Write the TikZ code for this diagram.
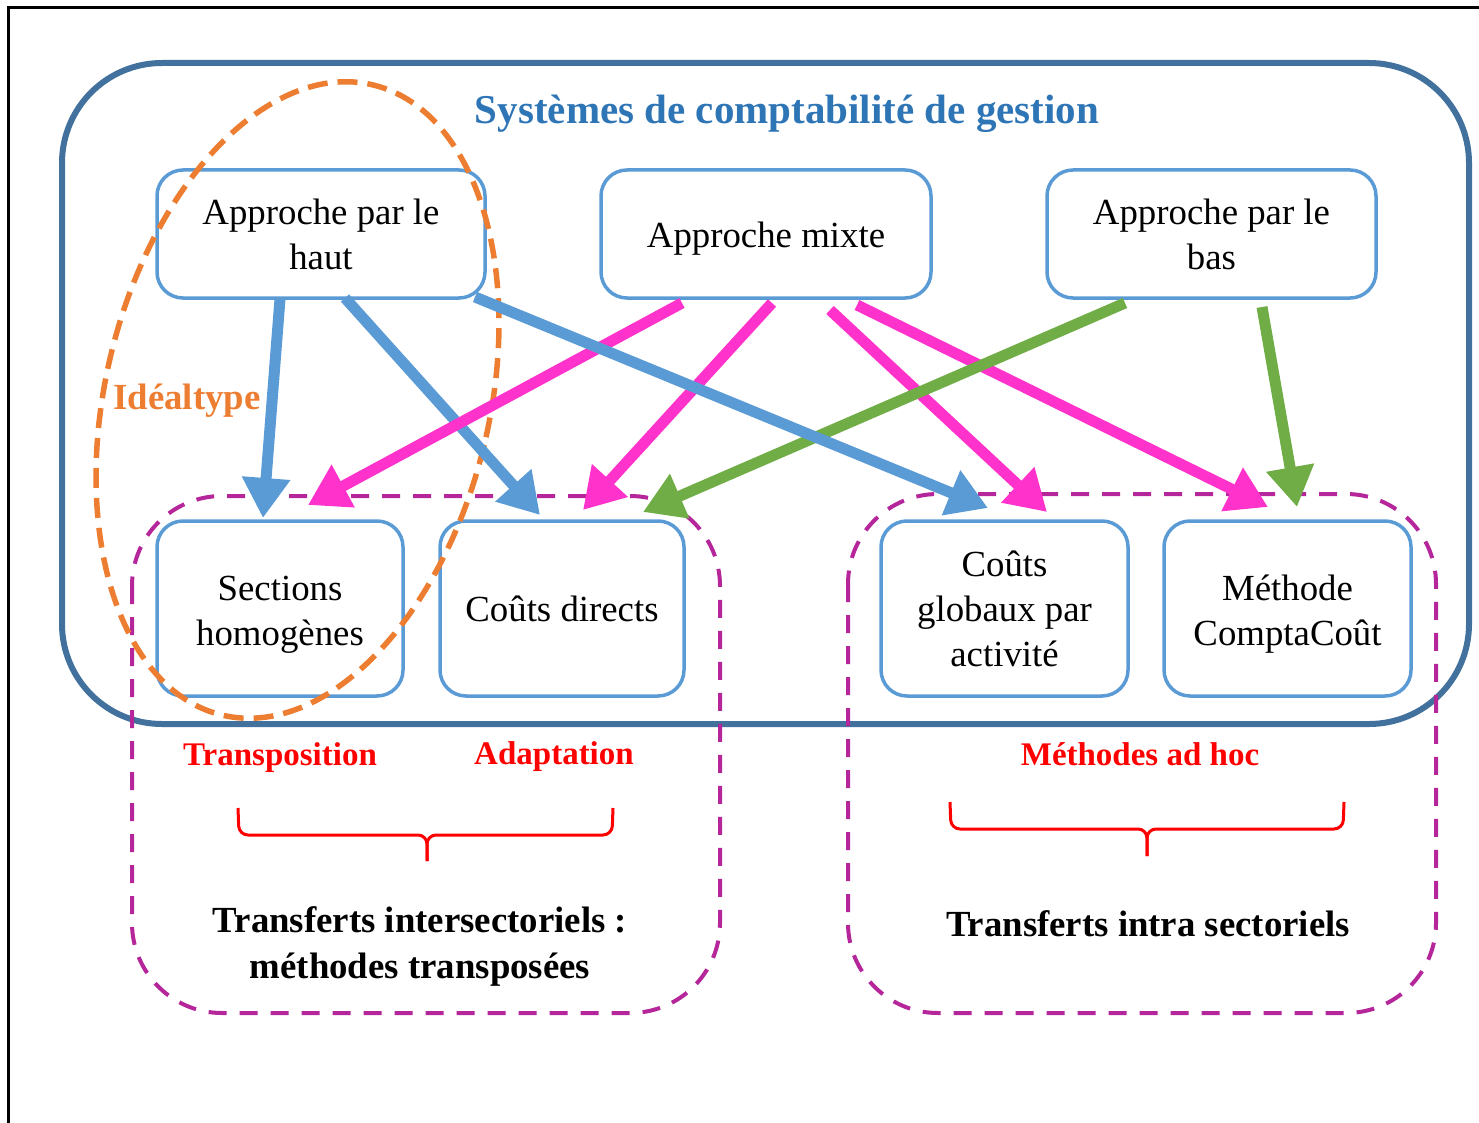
\documentclass[tikz,border=0pt]{standalone}
\usepackage{fontspec}
\setmainfont{Liberation Serif}
\usetikzlibrary{arrows.meta}
\definecolor{frameblue}{HTML}{41719C}
\definecolor{boxblue}{HTML}{5B9BD5}
\definecolor{titleblue}{HTML}{2E75B6}
\definecolor{purp}{HTML}{B5269B}
\definecolor{orng}{HTML}{ED7D31}
\definecolor{pnk}{HTML}{FF33CC}
\definecolor{grn}{HTML}{70AD47}
\definecolor{rd}{HTML}{FF0000}
\newcommand{\liftlines}[2]{\raisebox{#1}[\height][\depth]{\begin{tabular}{@{}c@{}}#2\end{tabular}}}
\tikzset{
  approach/.style={draw=boxblue, line width=3.5pt, rounded corners=26pt, inner sep=0pt,
    align=center, font=\fontsize{36.8}{45}\selectfont},
  groupbox/.style={draw=purp, line width=4pt, dash pattern=on 18pt off 13pt, rounded corners=90pt},
  arr/.style={line width=11pt, -{Triangle[length=40pt,width=46pt]}},
  redlab/.style={text=rd, font=\fontsize{33}{40}\selectfont\bfseries},
  blacklab/.style={text=black, align=center, font=\fontsize{36.8}{46}\selectfont\bfseries},
  brace/.style={draw=rd, line width=3pt, rounded corners=9pt}
}
\begin{document}
\begin{tikzpicture}[x=1pt,y=-1pt]
\useasboundingbox (0,0) rectangle (1479,1123);
% outer frame (left and top edges)
\draw[line width=3pt] (8,1123) -- (8,8) -- (1479,8);
% systems frame
\draw[draw=frameblue, line width=6pt, rounded corners=100pt] (62,63) rectangle (1469,724);
% group boxes
\draw[groupbox] (132,496) rectangle (720,1013);
\draw[groupbox] (848,494) rectangle (1436,1013);
% title
\node[text=titleblue, font=\fontsize{41}{48}\selectfont\bfseries] (title) at (787,114) {Systèmes de comptabilité de gestion};
% approach boxes
\node[approach, minimum width=328pt, minimum height=128pt] (haut) at (321,234) {Approche par le\\haut};
\node[approach, minimum width=330pt, minimum height=128pt] (mixte) at (766,234) {\raisebox{-5pt}[\height][\depth]{Approche mixte}};
\node[approach, minimum width=329pt, minimum height=128pt] (bas) at (1211.5,234) {Approche par le\\bas};
% method boxes
\node[approach, minimum width=246pt, minimum height=175pt] (sect) at (280,608.5) {\liftlines{-5pt}{Sections\\homogènes}};
\node[approach, minimum width=244pt, minimum height=175pt] (direct) at (562,608.5) {Coûts directs};
\node[approach, minimum width=247pt, minimum height=175pt] (abc) at (1004.5,608.5) {Coûts\\globaux par\\activité};
\node[approach, minimum width=247pt, minimum height=175pt] (compta) at (1287.5,608.5) {\liftlines{-5pt}{Méthode\\ComptaCoût}};
% ideal type ellipse
\draw[draw=orng, line width=5.5pt, dash pattern=on 20pt off 10pt, rotate around={-13.5:(297.5,400)}]
  (297.5,400) ellipse [x radius=192, y radius=324];
\node[text=orng, font=\fontsize{36.8}{44}\selectfont\bfseries] (ideal) at (187,401) {Idéaltype};
% arrow end points
\coordinate (b1s) at (280,299); \coordinate (b1e) at (263,518);
\coordinate (b2s) at (345,298); \coordinate (b2e) at (540,515);
\coordinate (b3s) at (475,297); \coordinate (b3e) at (988,508);
\coordinate (p1s) at (682,303); \coordinate (p1e) at (308,505);
\coordinate (p2s) at (772,303); \coordinate (p2e) at (583,510);
\coordinate (p3s) at (830,310); \coordinate (p3e) at (1047,512);
\coordinate (p4s) at (857,305); \coordinate (p4e) at (1268,507);
\coordinate (g1s) at (1125,303); \coordinate (g1e) at (643,512);
\coordinate (g2s) at (1262,307); \coordinate (g2e) at (1297,507);
% arrows
\draw[arr, draw=boxblue, fill=boxblue] (b1s) -- (b1e);
\draw[arr, draw=boxblue, fill=boxblue] (b2s) -- (b2e);
\draw[arr, draw=pnk, fill=pnk] (p1s) -- (p1e);
\draw[arr, draw=pnk, fill=pnk] (p2s) -- (p2e);
\draw[arr, draw=pnk, fill=pnk] (p3s) -- (p3e);
\draw[arr, draw=pnk, fill=pnk] (p4s) -- (p4e);
\draw[arr, draw=grn, fill=grn] (g1s) -- (g1e);
\draw[arr, draw=boxblue, fill=boxblue] (b3s) -- (b3e);
\draw[arr, draw=grn, fill=grn] (g2s) -- (g2e);
% red labels
\node[redlab] (transp) at (280,758) {Transposition};
\node[redlab] (adapt) at (554,757) {Adaptation};
\node[redlab] (adhoc) at (1140,754) {Méthodes ad hoc};
% braces
\coordinate (lb1) at (238,808); \coordinate (lb2) at (613,808); \coordinate (lbt) at (427,861);
\draw[brace] (lb1) -- (239,835) -- (427,835) -- (lbt);
\draw[brace] (lb2) -- (612,835) -- (427,835) -- (lbt);
\coordinate (rb1) at (950,802); \coordinate (rb2) at (1344,802); \coordinate (rbt) at (1147,856);
\draw[brace] (rb1) -- (951,829) -- (1147,829) -- (rbt);
\draw[brace] (rb2) -- (1343,829) -- (1147,829) -- (rbt);
% bottom labels
\node[blacklab] (inter) at (420,946) {Transferts intersectoriels :\\méthodes transposées};
\node[blacklab] (intra) at (1148,924) {Transferts intra sectoriels};
\end{tikzpicture}
\end{document}
